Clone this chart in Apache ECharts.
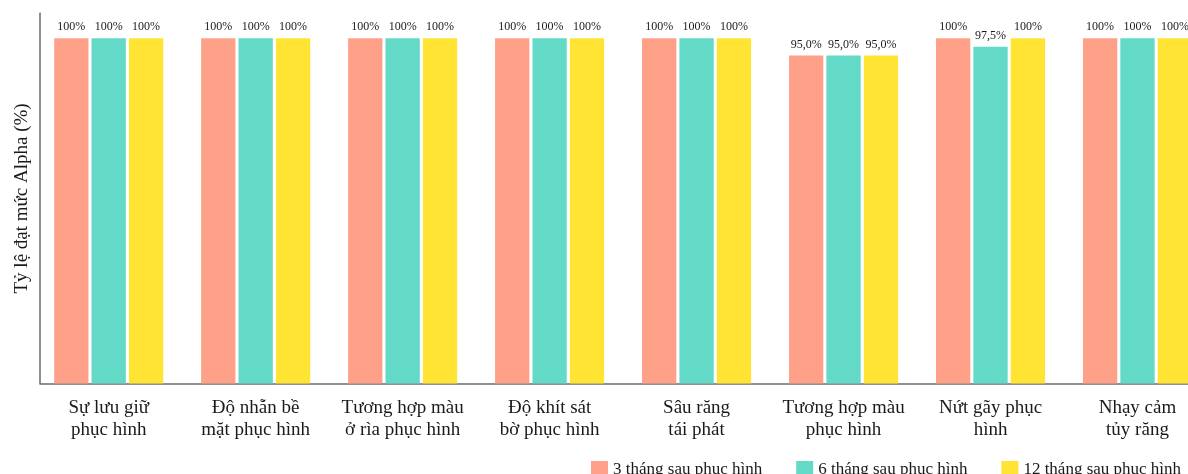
<!DOCTYPE html>
<html>
<head>
<meta charset="utf-8">
<title>Tỷ lệ đạt mức Alpha</title>
<script src="https://cdn.jsdelivr.net/npm/echarts@6/dist/echarts.min.js"></script>
<style>
  html, body { margin: 0; padding: 0; background: #ffffff; }
  #chart { width: 1188px; height: 474px; }
</style>
</head>
<body>
<div id="chart"></div>
<script>
// Criteria evaluated at each follow-up visit
const categories = [
  'Sự lưu giữ\nphục hình',
  'Độ nhẵn bề\nmặt phục hình',
  'Tương hợp màu\nở rìa phục hình',
  'Độ khít sát\nbờ phục hình',
  'Sâu răng\ntái phát',
  'Tương hợp màu\nphục hình',
  'Nứt gãy phục\nhình',
  'Nhạy cảm\ntủy răng'
];

// Share of restorations rated Alpha (%)
const seriesNames = ['3 tháng sau phục hình', '6 tháng sau phục hình', '12 tháng sau phục hình'];
const month3  = [100, 100, 100, 100, 100, 95.0, 100, 100];
const month6  = [100, 100, 100, 100, 100, 95.0, 97.5, 100];
const month12 = [100, 100, 100, 100, 100, 95.0, 100, 100];
const colors = ['#FFA089', '#63D9C8', '#FFE433'];

const yMax = 107.2;
// category positions are 0..7; the visible window runs a little past the last group
const xMin = -0.4674;
const xMax = 7.3437;
const serif = '"Liberation Serif", "Times New Roman", "DejaVu Serif", serif';
const axisGrey = '#6b6b6b';

function pct(v) {
  return v === 100 ? '100%' : v.toFixed(1).replace('.', ',') + '%';
}

function barSeries(name, values, color) {
  return {
    name: name,
    type: 'bar',
    data: values.map((v, i) => [i, v]),
    barWidth: 34.3,
    barGap: '9%',
    itemStyle: { color: color },
    label: {
      show: true,
      position: 'top',
      distance: 5,
      fontFamily: serif,
      fontSize: 12,
      color: '#1a1a1a',
      formatter: p => pct(p.value[1])
    },
    emphasis: { disabled: true }
  };
}

const chart = echarts.init(document.getElementById('chart'), null, { renderer: 'canvas' });

chart.setOption({
  animation: false,
  backgroundColor: '#ffffff',
  textStyle: { fontFamily: serif },
  legend: {
    data: seriesNames,
    left: 591,
    top: 461,
    width: 700,
    padding: 0,
    itemWidth: 17,
    itemHeight: 17,
    itemGap: 34,
    icon: 'rect',
    textStyle: { fontFamily: serif, fontSize: 17, color: '#1a1a1a' }
  },
  grid: { left: 40, right: 0, top: 13.3, bottom: 90.5, containLabel: false },
  xAxis: {
    type: 'value',
    min: xMin,
    max: xMax,
    axisLine: { show: true, onZero: false, lineStyle: { color: axisGrey, width: 1.5 } },
    axisTick: { show: false },
    axisLabel: {
      customValues: categories.map((c, i) => i),
      formatter: v => categories[Math.round(v)],
      margin: 14,
      fontFamily: serif,
      fontSize: 19,
      lineHeight: 22,
      color: '#1a1a1a',
      align: 'center',
      showMinLabel: true,
      showMaxLabel: true,
      hideOverlap: false
    },
    splitLine: { show: false }
  },
  yAxis: {
    type: 'value',
    min: 0,
    max: yMax,
    name: 'Tỷ lệ đạt mức Alpha (%)',
    nameLocation: 'middle',
    nameGap: 8,
    nameTextStyle: { fontFamily: serif, fontSize: 19, color: '#1a1a1a' },
    axisLine: { show: true, onZero: false, lineStyle: { color: axisGrey, width: 1.5 } },
    axisTick: { show: false },
    axisLabel: { show: false },
    splitLine: { show: false }
  },
  series: [
    barSeries(seriesNames[0], month3, colors[0]),
    barSeries(seriesNames[1], month6, colors[1]),
    barSeries(seriesNames[2], month12, colors[2])
  ]
});
</script>
</body>
</html>
